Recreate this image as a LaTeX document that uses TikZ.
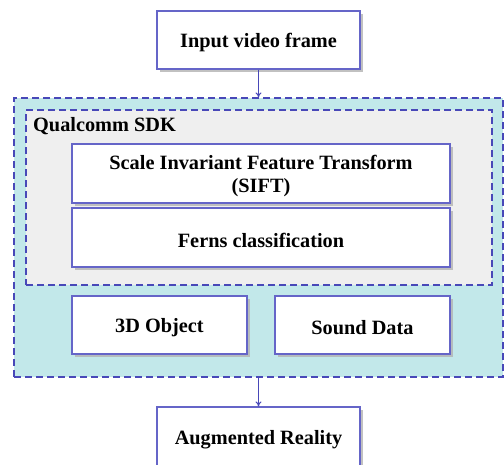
\documentclass[tikz,border=0pt]{standalone}
\usepackage{fontspec}
\setmainfont{Liberation Serif}
\usetikzlibrary{shadows,arrows.meta}
\definecolor{boxline}{HTML}{6565C8}
\definecolor{dashline}{HTML}{4848B8}
\definecolor{outerfill}{HTML}{C2E8EA}
\definecolor{innerfill}{HTML}{EFEFEF}
\newcommand\lowtxt[1]{\raisebox{-3pt}[\height][\depth]{#1}}
\tikzset{
  box/.style={draw=boxline, line width=1.1pt, fill=white, font=\bfseries\fontsize{20.3}{23}\selectfont,
    align=center, inner sep=0pt,
    drop shadow={shadow xshift=3pt, shadow yshift=-3pt, fill=black!30, opacity=0.8}},
  group/.style={draw=dashline, line width=1.2pt, dash pattern=on 7pt off 4pt, inner sep=0pt},
  conn/.style={draw=dashline, line width=1pt, -{To[length=5pt,width=6pt]}}
}
\begin{document}
\begin{tikzpicture}[x=1pt,y=-1pt]
\useasboundingbox (0,0) rectangle (504,464);
\node[group, fill=outerfill, minimum width=489, minimum height=279] (outer) at (258.5,237.5) {};
\node[group, fill=innerfill, minimum width=466, minimum height=175] (inner) at (259,197.5) {};
\node[anchor=west, font=\bfseries\fontsize{20.3}{23}\selectfont, inner sep=0pt] (sdk) at (33,126) {Qualcomm SDK};
\node[box, minimum width=203, minimum height=58] (in) at (258.5,40) {\lowtxt{Input video frame}};
\node[box, minimum width=378, minimum height=59] (sift) at (261,173.5) {\lowtxt{\begin{tabular}{@{}c@{}}Scale Invariant Feature Transform\\(SIFT)\end{tabular}}};
\node[box, minimum width=378, minimum height=59] (ferns) at (261,237.5) {\lowtxt{Ferns classification}};
\node[box, minimum width=175, minimum height=58] (obj) at (159.5,325) {\lowtxt{3D Object}};
\node[box, minimum width=175, minimum height=58] (sound) at (362.5,325) {\lowtxt{Sound Data}};
\node[box, minimum width=203, minimum height=60] (ar) at (258.5,437) {\lowtxt{Augmented Reality}};
\draw[conn] (in.south) -- (outer.north);
\draw[conn] (outer.south) -- (ar.north);
\end{tikzpicture}
\end{document}
